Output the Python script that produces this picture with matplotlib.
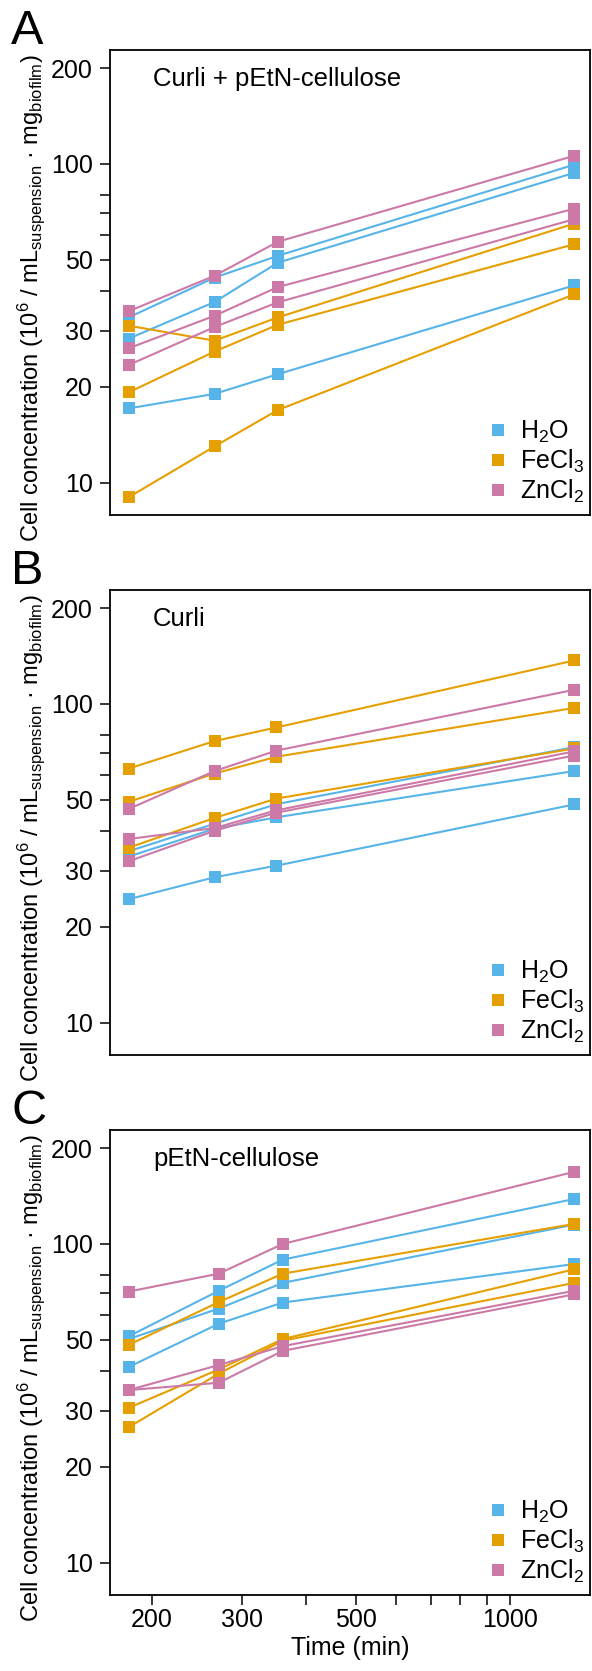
import matplotlib
matplotlib.use("Agg")
import matplotlib.pyplot as plt
from matplotlib.lines import Line2D
from matplotlib.ticker import NullFormatter

plt.rcParams["font.family"] = ["Liberation Sans", "DejaVu Sans"]
plt.rcParams["mathtext.fontset"] = "custom"
plt.rcParams["mathtext.rm"] = "Liberation Sans"
plt.rcParams["mathtext.it"] = "Liberation Sans:italic"
plt.rcParams["mathtext.bf"] = "Liberation Sans:bold"

# time points (min)
time_a = [180, 265, 352, 1335]
time_b = [180, 265, 350, 1335]
time_c = [180, 270, 360, 1335]

# panel A: curli + pEtN-cellulose (three replicates per treatment)
h2o_a = [[33.0, 44.0, 51.5, 99.5],
         [28.3, 36.9, 49.0, 93.8],
         [17.1, 19.0, 21.9, 41.6]]
fecl3_a = [[31.1, 27.9, 33.0, 65.0],
           [19.2, 25.8, 31.3, 56.0],
           [9.0, 13.0, 16.9, 39.0]]
zncl2_a = [[34.5, 44.6, 57.0, 106.1],
           [26.4, 33.4, 41.1, 72.4],
           [23.4, 30.8, 36.8, 67.1]]

# panel B: curli
h2o_b = [[34.5, 42.1, 48.5, 73.2],
         [33.2, 40.6, 44.1, 61.6],
         [24.4, 28.6, 31.1, 48.4]]
fecl3_b = [[62.7, 76.5, 84.4, 136.9],
           [49.3, 60.5, 68.3, 97.2],
           [35.4, 43.9, 50.5, 72.5]]
zncl2_b = [[46.8, 61.6, 71.4, 110.8],
           [37.7, 40.8, 46.4, 71.0],
           [32.1, 40.0, 45.6, 68.9]]

# panel C: pEtN-cellulose
h2o_c = [[51.3, 71.3, 89.3, 138.4],
         [50.3, 62.7, 75.5, 115.0],
         [41.1, 56.2, 65.5, 86.5]]
fecl3_c = [[48.2, 65.7, 80.7, 115.6],
           [30.6, 40.4, 50.3, 83.3],
           [26.6, 39.2, 49.7, 75.5]]
zncl2_c = [[70.9, 80.7, 100.0, 168.4],
           [34.8, 41.7, 47.8, 71.3],
           [34.8, 36.7, 46.2, 69.5]]

titles = ["Curli + pEtN-cellulose", "Curli", "pEtN-cellulose"]
letters = ["A", "B", "C"]
treatments = ["H$_2$O", "FeCl$_3$", "ZnCl$_2$"]
colors = ["#56B4E9", "#E69F00", "#CC79A7"]

y_major = [10, 20, 30, 50, 100, 200]
y_minor = [40, 60, 70, 80]
x_major = [200, 300, 500, 1000]
x_minor = [400, 600, 700, 800, 900]

ylab = "Cell concentration (10$^{6}$ / mL$_{\\mathrm{suspension}}$ · mg$_{\\mathrm{biofilm}}$)"

W, H = 592, 1671
fig = plt.figure(figsize=(W / 100, H / 100), dpi=100)

panels = [
    (time_a, [h2o_a, fecl3_a, zncl2_a]),
    (time_b, [h2o_b, fecl3_b, zncl2_b]),
    (time_c, [h2o_c, fecl3_c, zncl2_c]),
]
tops = [50, 590, 1130]   # frame tops in pixels
ph = 465                 # panel height in pixels
fs = 18
ms = 8.3

for i, (times, groups) in enumerate(panels):
    top = tops[i]
    ax = fig.add_axes([110 / W, (H - top - ph) / H, 480 / W, ph / H])
    for reps, col in zip(groups, colors):
        for rep in reps:
            ax.plot(times, rep, color=col, lw=1.5, marker="s", ms=ms,
                    mew=0, solid_joinstyle="round")

    ax.set_xscale("log")
    ax.set_yscale("log")
    ax.set_xlim(165.6, 1433)
    ax.set_ylim(7.92, 227.8)

    ax.set_yticks(y_major)
    ax.set_yticklabels([str(v) for v in y_major])
    ax.set_yticks(y_minor, minor=True)
    ax.yaxis.set_minor_formatter(NullFormatter())
    ax.tick_params(axis="y", which="both", direction="out", length=7,
                   width=1.1, pad=5.5, labelsize=fs)

    if i == 2:
        ax.set_xticks(x_major)
        ax.set_xticklabels([str(v) for v in x_major])
        ax.set_xticks(x_minor, minor=True)
        ax.xaxis.set_minor_formatter(NullFormatter())
        ax.tick_params(axis="x", which="both", direction="out", length=7,
                       width=1.1, pad=2.5, labelsize=fs)
        ax.set_xlabel("Time (min)", fontsize=fs, labelpad=3)
    else:
        ax.set_xticks([])
        ax.set_xticks([], minor=True)

    for sp in ax.spines.values():
        sp.set_linewidth(1.3)
        sp.set_color("black")

    ax.text(0.09, 1 - 29 / ph, titles[i], transform=ax.transAxes,
            ha="left", va="center", fontsize=18.5)

    handles = [Line2D([], [], color=c, marker="s", ls="", ms=ms, mew=0)
               for c in colors]
    ax.legend(handles, treatments, loc="lower left",
              bbox_to_anchor=((488 - 110) / 480, 0.022), frameon=False,
              fontsize=fs, handlelength=0.8, handletextpad=0.5,
              labelspacing=0.1, borderpad=0, borderaxespad=0)

    fig.text(31 / W, 1 - (top + 248) / H, ylab, rotation=90,
             ha="center", va="center", fontsize=17)
    fig.text(11 / W, 1 - (top - 6) / H, letters[i], fontsize=35,
             ha="left", va="baseline")

fig.savefig("out.png", dpi=100)
